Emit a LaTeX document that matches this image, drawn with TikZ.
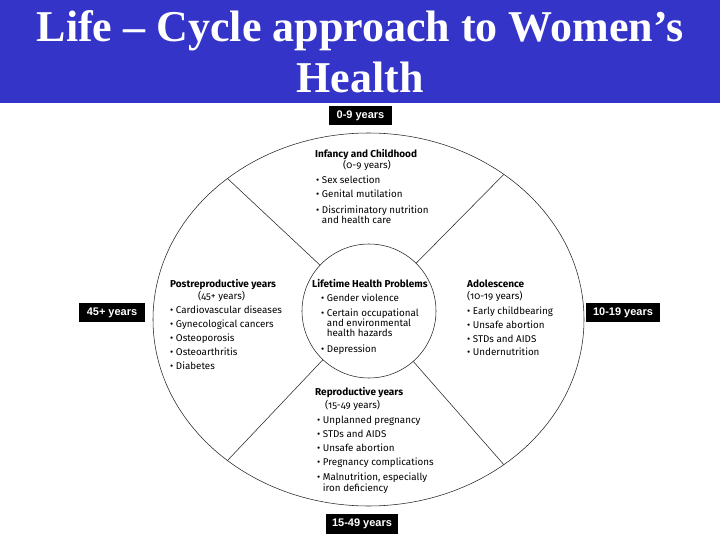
\documentclass[tikz,border=0pt]{standalone}
\usepackage{fontspec}
\setmainfont{Liberation Serif}
\newfontfamily\diagfont[Numbers=OldStyle]{Fira Sans}
\newfontfamily\labfont{Liberation Sans}
\usetikzlibrary{shapes.geometric}
\definecolor{titleblue}{RGB}{52,52,200}
\tikzset{
  dtext/.style={inner sep=0pt, anchor=mid west, yshift=-1.5pt, font=\diagfont\fontsize{9.8}{10}\selectfont},
  dhead/.style={dtext, font=\diagfont\bfseries\fontsize{10}{11}\selectfont},
  agebox/.style={fill=black, text=white, inner sep=0pt, minimum height=19pt,
     font=\labfont\bfseries\fontsize{11}{12}\selectfont},
  ring/.style={draw=black!85, line width=0.55pt, inner sep=0pt, outer sep=0pt},
  divider/.style={draw=black!85, line width=0.55pt},
  titletext/.style={text=white, inner sep=0pt, anchor=base, font=\bfseries\fontsize{44}{50}\selectfont}
}
\newcommand\mkbul[4]{\node[dtext] (#1) at (#2,#3) {•\ #4};}
\newcommand\mkcont[4]{\node[dtext] (#1) at (#2,#3) {\phantom{•\ }#4};}
\begin{document}
\begin{tikzpicture}[x=1pt,y=-1pt]
\useasboundingbox (0,0) rectangle (720,540);
\fill[white] (0,0) rectangle (720,540);
\fill[titleblue] (0,0) rectangle (720,103);
\node[titletext] (title1) at (360,42) {Life – Cycle approach to Women’s};
\node[titletext] (title2) at (360,93) {Health};

% rings
\node[ring, ellipse, minimum width=431pt, minimum height=373pt] (outer) at (368.5,319.5) {};
\node[ring, circle, minimum size=134pt] (inner) at (369,311) {};
\draw[divider] (outer.135) -- (inner);
\draw[divider] (outer.47) -- (inner);
\draw[divider] (outer.225) -- (inner);
\draw[divider] (outer.313) -- (inner);

% age boxes
\node[agebox, minimum width=63pt] (age09) at (360.5,115.5) {0-9 years};
\node[agebox, minimum width=66pt] (age45) at (112,312.5) {45+ years};
\node[agebox, minimum width=74pt] (age1019) at (623,312.5) {10-19 years};
\node[agebox, minimum width=72pt, minimum height=20pt] (age1549) at (362,524) {15-49 years};

% Infancy and Childhood
\node[dhead] (infh) at (315,154) {Infancy and Childhood};
\node[dtext] (infa) at (343,165) {(0-9 years)};
\mkbul{inf1}{316}{180}{Sex selection}
\mkbul{inf2}{316}{194}{Genital mutilation}
\mkbul{inf3}{316}{210}{Discriminatory nutrition}
\mkcont{inf4}{316}{220}{and health care}

% Postreproductive
\node[dhead] (posth) at (170,284) {Postreproductive years};
\node[dtext] (posta) at (198,296) {(45+ years)};
\mkbul{post1}{170}{310}{Cardiovascular diseases}
\mkbul{post2}{170}{324}{Gynecological cancers}
\mkbul{post3}{170}{338}{Osteoporosis}
\mkbul{post4}{170}{352}{Osteoarthritis}
\mkbul{post5}{170}{366}{Diabetes}

% Lifetime
\node[dhead] (lifeh) at (312,284) {Lifetime Health Problems};
\mkbul{life1}{321}{298}{Gender violence}
\mkbul{life2}{321}{313}{Certain occupational}
\mkcont{life3}{321}{323}{and environmental}
\mkcont{life4}{321}{333}{health hazards}
\mkbul{life5}{321}{349}{Depression}

% Adolescence
\node[dhead] (adoh) at (467,284) {Adolescence};
\node[dtext] (adoa) at (467,296) {(10-19 years)};
\mkbul{ado1}{467}{311}{Early childbearing}
\mkbul{ado2}{467}{325}{Unsafe abortion}
\mkbul{ado3}{467}{339}{STDs and AIDS}
\mkbul{ado4}{467}{352}{Undernutrition}

% Reproductive
\node[dhead] (reph) at (315,392) {Reproductive years};
\node[dtext] (repa) at (325,405) {(15-49 years)};
\mkbul{rep1}{317}{420}{Unplanned pregnancy}
\mkbul{rep2}{317}{434}{STDs and AIDS}
\mkbul{rep3}{317}{448}{Unsafe abortion}
\mkbul{rep4}{317}{462}{Pregnancy complications}
\mkbul{rep5}{317}{477}{Malnutrition, especially}
\mkcont{rep6}{317}{488}{iron deficiency}
\end{tikzpicture}
\end{document}
